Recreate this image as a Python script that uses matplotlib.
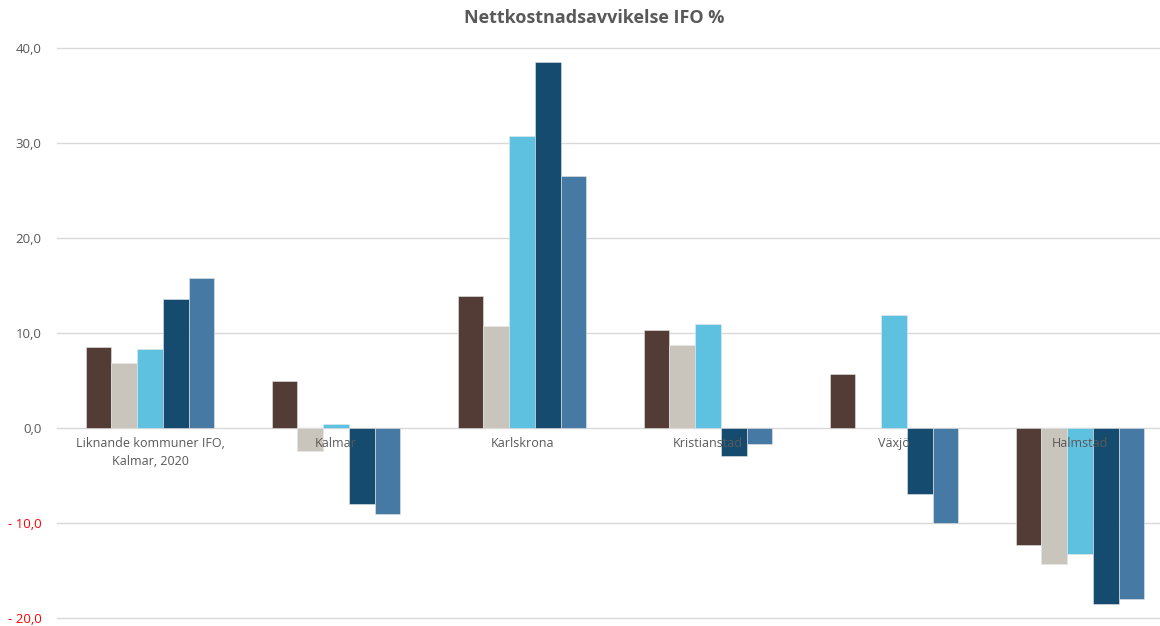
#!/usr/bin/python
# -*- encoding: UTF-8 -*-
'''Nettkostnadsavvikelse IFO % - grouped bar chart'''

import numpy as np
import matplotlib
matplotlib.use('Agg')
import matplotlib.pyplot as plt

#==============================================================================
categories = ['Liknande kommuner IFO,\nKalmar, 2020', 'Kalmar', 'Karlskrona',
              'Kristianstad', 'Växjö', 'Halmstad']
serie_1 = [8.5, 5.0, 13.9, 10.3, 5.7, -12.3]
serie_2 = [6.8, -2.4, 10.7, 8.7, 0.0, -14.3]
serie_3 = [8.3, 0.4, 30.7, 11.0, 11.9, -13.3]
serie_4 = [13.6, -8.0, 38.5, -2.9, -6.9, -18.5]
serie_5 = [15.8, -9.0, 26.5, -1.7, -10.0, -18.0]
y_ticks = [-20, -10, 0, 10, 20, 30, 40]

colors = ['#523C35', '#C9C4BC', '#5EC1E0', '#154B6E', '#4679A3']
grey = '#595959'

#==============================================================================
def fmt(v):
    s = '{:.1f}'.format(abs(v)).replace('.', ',')
    return '- ' + s if v < 0 else s

def main():
    plt.rcParams['font.family'] = ['Open Sans', 'DejaVu Sans']
    fig = plt.figure(figsize=(11.6, 6.26), dpi=100)
    ax = fig.add_axes([57/1160., 1-618/626., (1173-57)/1160., (618-48)/626.])

    series = [serie_1, serie_2, serie_3, serie_4, serie_5]
    x = np.arange(len(categories))
    w = 0.69 / len(series)
    for i, (vals, c) in enumerate(zip(series, colors)):
        ax.bar(x + (i - 2) * w, vals, width=w, color=c, zorder=2,
               edgecolor='#E8E8E8', linewidth=0.4)

    ax.set_xlim(-0.5, len(categories) - 0.5)
    ax.set_ylim(-20, 40)
    ax.set_yticks(y_ticks)
    ax.set_yticklabels([fmt(v) for v in y_ticks], fontsize=9.5)
    for lbl, v in zip(ax.get_yticklabels(), y_ticks):
        lbl.set_color('#FF0000' if v < 0 else grey)
    ax.tick_params(axis='y', length=0, pad=11)
    ax.set_xticks([])
    ax.grid(axis='y', color='#D9D9D9', linewidth=1, zorder=0)
    for gl in ax.get_ygridlines():
        gl.set_clip_on(False)
    for s in ax.spines.values():
        s.set_visible(False)

    for xi, name in zip(x, categories):
        ax.text(xi, -0.9, name, ha='center', va='top', fontsize=9,
                color=grey, zorder=3, linespacing=1.5)

    fig.text(594/1160., 1-18/626., 'Nettkostnadsavvikelse IFO %',
             ha='center', va='center', fontsize=13, fontweight='bold',
             color=grey)

    fig.savefig('out.png', dpi=100)

#==============================================================================
if __name__ == '__main__': main()
